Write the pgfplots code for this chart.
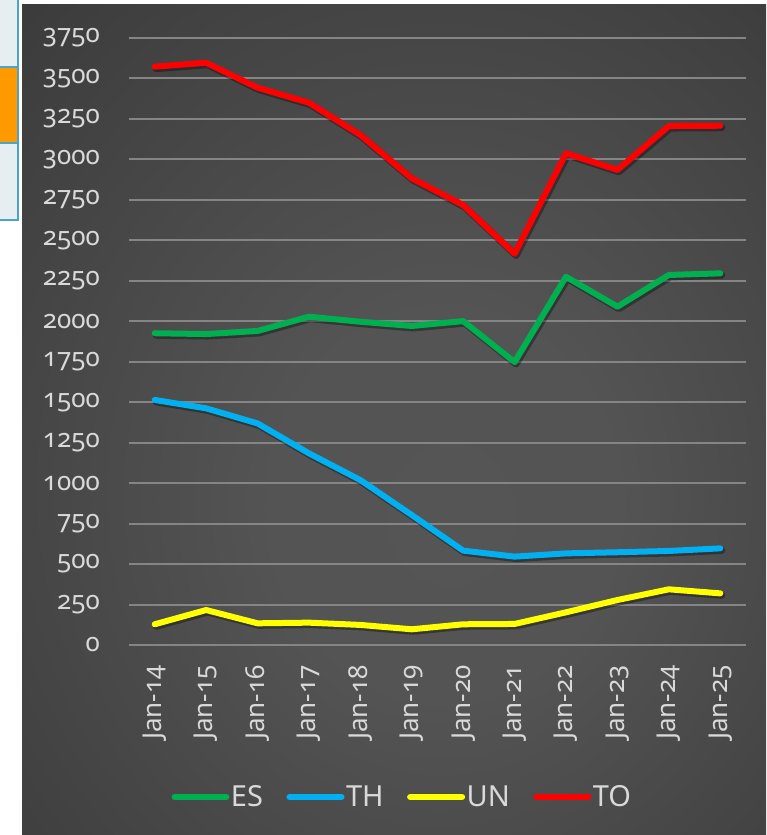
\documentclass[border=0pt]{standalone}
\usepackage{fontspec}
\setmainfont{Noto Sans}[Numbers=OldStyle]
\usepackage{pgfplots}
\pgfplotsset{compat=1.18}
\definecolor{bgin}{HTML}{555555}
\definecolor{bgout}{HTML}{272727}
\definecolor{gridc}{HTML}{858585}
\definecolor{txt}{HTML}{D9D9D9}
\definecolor{cES}{HTML}{00B050}
\definecolor{cTH}{HTML}{00B0F0}
\definecolor{cUN}{HTML}{FFFF00}
\definecolor{cTO}{HTML}{FF0000}
\definecolor{strip}{HTML}{E6EEF2}
\definecolor{stripb}{HTML}{4BA3C8}
\definecolor{orng}{HTML}{FF9900}
\pgfdeclareradialshading{bgshade}{\pgfpoint{4bp}{-6bp}}{color(0bp)=(bgin); color(12bp)=(bgin!97!bgout); color(62bp)=(bgout); color(80bp)=(bgout)}
\pgfplotstableread{
x ES TH UN TO
0 1926 1514 128 3573
1 1921 1462 216 3597
2 1940 1369 134 3443
3 2028 1184 138 3350
4 1997 1019 124 3151
5 1971 803 97 2883
6 2001 583 128 2718
7 1748 546 130 2418
8 2275 566 202 3038
9 2090 573 278 2935
10 2286 581 344 3206
11 2296 597 319 3208
}\datatable
\begin{document}
\begin{tikzpicture}
\path[use as bounding box, fill=white] (0pt,0pt) rectangle (766pt,835pt);
\shade[shading=bgshade] (22pt,0pt) rectangle (766pt,830pt);
\fill[strip] (0pt,615pt) rectangle (17pt,835pt);
\fill[orng] (0pt,692pt) rectangle (17pt,768pt);
\draw[stripb, line width=2pt] (18pt,614pt) -- (18pt,835pt);
\draw[stripb, line width=2pt] (0pt,615pt) -- (18pt,615pt);
\draw[stripb, line width=2pt] (0pt,692pt) -- (18pt,692pt);
\draw[stripb, line width=2pt] (0pt,768pt) -- (18pt,768pt);
\begin{axis}[
  scale only axis, width=617pt, height=607pt,
  at={(129pt,190pt)}, anchor=south west,
  xmin=-0.5, xmax=11.5, ymin=0, ymax=3750,
  ytick={0,250,...,3750},
  xtick={0,...,11},
  xticklabels={Jan-14,Jan-15,Jan-16,Jan-17,Jan-18,Jan-19,Jan-20,Jan-21,Jan-22,Jan-23,Jan-24,Jan-25},
  ymajorgrids, grid style={draw=gridc, line width=2pt},
  axis line style={draw=none},
  major tick length=0pt,
  clip=false,
  /pgf/number format/assume math mode=true,
  /pgf/number format/set thousands separator={},
  tick label style={font=\fontsize{26}{32}\selectfont, text=txt},
  yticklabel style={anchor=east, inner sep=0pt, xshift=-29pt},
  xticklabel style={yshift=-20pt, rotate=90, anchor=east, inner sep=0pt},
  legend style={at={(0.4425,-0.2504)}, anchor=center, draw=none, fill=none,
    text=txt, font=\fontsize{29}{32}\selectfont,
    nodes={inner sep=1.5pt},
    /tikz/every even column/.append style={column sep=22pt}},
  legend columns=4,
  legend image code/.code={\draw[line width=6pt, line cap=round] (3pt,0pt) -- (55pt,0pt);},
  every axis plot/.append style={line width=6pt, line join=round, line cap=round},
]
\addplot[black, opacity=0.35, line width=7pt, xshift=1.5pt, yshift=-2pt, forget plot] table[x=x,y=ES] {\datatable};
\addplot[black, opacity=0.35, line width=7pt, xshift=1.5pt, yshift=-2pt, forget plot] table[x=x,y=TH] {\datatable};
\addplot[black, opacity=0.35, line width=7pt, xshift=1.5pt, yshift=-2pt, forget plot] table[x=x,y=UN] {\datatable};
\addplot[black, opacity=0.35, line width=7pt, xshift=1.5pt, yshift=-2pt, forget plot] table[x=x,y=TO] {\datatable};
\addplot[cES] table[x=x,y=ES] {\datatable};
\addlegendentry{ES}
\addplot[cTH] table[x=x,y=TH] {\datatable};
\addlegendentry{TH}
\addplot[cUN] table[x=x,y=UN] {\datatable};
\addlegendentry{UN}
\addplot[cTO] table[x=x,y=TO] {\datatable};
\addlegendentry{TO}
\end{axis}
\end{tikzpicture}
\end{document}
